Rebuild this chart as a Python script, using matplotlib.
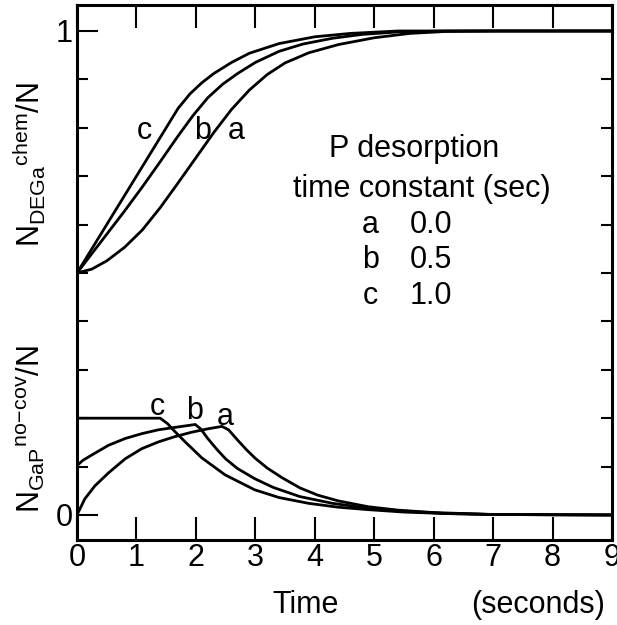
import numpy as np
import matplotlib.pyplot as plt

plt.rcParams['font.family'] = ['Liberation Sans', 'DejaVu Sans']
plt.rcParams['mathtext.fontset'] = 'custom'
plt.rcParams['mathtext.rm'] = 'Liberation Sans'
plt.rcParams['mathtext.it'] = 'Liberation Sans'

# upper curves: N_DEGa^chem / N
t_up_a = [0, 0.25, 0.5, 0.8, 1.1, 1.4, 1.7, 2.0, 2.3, 2.6, 2.9, 3.2, 3.5, 3.9, 4.4, 5.0, 5.6, 6.2, 7, 9]
y_up_a = [0.500, 0.508, 0.525, 0.553, 0.589, 0.635, 0.686, 0.738, 0.790, 0.838, 0.878, 0.910, 0.934,
          0.955, 0.972, 0.986, 0.995, 0.999, 1.0, 1.0]
t_up_b = [0, 0.25, 0.5, 0.8, 1.1, 1.4, 1.7, 1.95, 2.2, 2.45, 2.7, 3.0, 3.4, 3.8, 4.3, 4.8, 5.4, 6.2, 9]
y_up_b = [0.500, 0.540, 0.580, 0.628, 0.678, 0.730, 0.783, 0.825, 0.862, 0.890, 0.912, 0.935, 0.958,
          0.973, 0.985, 0.993, 0.998, 1.0, 1.0]
t_up_c = [0, 0.4, 0.8, 1.2, 1.5, 1.7, 1.9, 2.1, 2.3, 2.6, 2.9, 3.4, 4.0, 4.6, 5.4, 9]
y_up_c = [0.500, 0.580, 0.660, 0.740, 0.800, 0.840, 0.870, 0.893, 0.912, 0.935, 0.954, 0.974, 0.988,
          0.995, 1.0, 1.0]

# lower curves: N_GaP^no-cov / N
t_lo_a = [0, 0.13, 0.3, 0.53, 0.81, 1.09, 1.37, 1.65, 1.93, 2.2, 2.44, 2.55, 2.7, 2.85, 3.0, 3.2, 3.45,
          3.75, 4.05, 4.4, 4.9, 5.4, 6.0, 7, 9]
y_lo_a = [0, 0.033, 0.060, 0.087, 0.116, 0.137, 0.151, 0.162, 0.171, 0.178, 0.183, 0.176, 0.155, 0.135,
          0.117, 0.097, 0.077, 0.056, 0.041, 0.029, 0.017, 0.010, 0.005, 0.001, 0]
t_lo_b = [0, 0.1, 0.25, 0.53, 0.81, 1.09, 1.37, 1.65, 1.99, 2.08, 2.2, 2.35, 2.5, 2.7, 2.99, 3.3, 3.75,
          4.3, 4.9, 5.5, 6.2, 7, 9]
y_lo_b = [0.102, 0.113, 0.124, 0.144, 0.158, 0.168, 0.176, 0.181, 0.187, 0.178, 0.158, 0.136, 0.116,
          0.096, 0.075, 0.057, 0.038, 0.024, 0.014, 0.008, 0.003, 0.001, 0]
t_lo_c = [0, 1.40, 1.52, 1.65, 1.82, 2.1, 2.49, 2.99, 3.4, 3.9, 4.4, 4.9, 5.5, 6.2, 7, 9]
y_lo_c = [0.200, 0.200, 0.189, 0.172, 0.151, 0.118, 0.083, 0.052, 0.036, 0.024, 0.016, 0.011, 0.006,
          0.003, 0.001, 0]

legend_keys = ['a', 'b', 'c']
legend_vals = ['0.0', '0.5', '1.0']
x_tick_labels = [str(i) for i in range(10)]

fs = 22
fig = plt.figure(figsize=(6.17, 6.25), dpi=100)
ax = fig.add_axes([0.1248, 0.136, 0.867, 0.856])

for t, y in [(t_up_a, y_up_a), (t_up_b, y_up_b), (t_up_c, y_up_c),
             (t_lo_a, y_lo_a), (t_lo_b, y_lo_b), (t_lo_c, y_lo_c)]:
    ax.plot(t, y, color='black', lw=2, solid_joinstyle='round')

ax.set_xlim(0, 9)
ax.set_ylim(-0.0517, 1.0537)

for s in ax.spines.values():
    s.set_linewidth(2.2)

ax.set_xticks(range(10), x_tick_labels)
ax.tick_params(axis='x', which='major', direction='in', length=16.5, width=1.5,
               top=True, labelsize=fs, pad=2)
ax.set_yticks([0, 1], ['0', '1'])
ax.set_yticks(np.arange(1, 10) / 10, minor=True)
ax.tick_params(axis='y', which='major', direction='in', length=15, width=1.5,
               labelsize=fs, pad=3)
ax.tick_params(axis='y', which='minor', direction='in', length=8, width=1.5,
               left=True, right=True)

# curve labels
for lab, x in zip(['c', 'b', 'a'], [1.14, 2.12, 2.68]):
    ax.text(x, 0.777, lab, fontsize=fs, ha='center', va='baseline')
for lab, x, y in zip(['c', 'b', 'a'], [1.36, 1.97, 2.5], [0.207, 0.198, 0.186]):
    ax.text(x, y, lab, fontsize=fs, ha='center', va='baseline')

# legend block
fig.text(0.672, 0.749, 'P desorption', fontsize=fs, ha='center', va='baseline')
fig.text(0.684, 0.685, 'time constant (sec)', fontsize=fs, ha='center', va='baseline')
for i, (k, v) in enumerate(zip(legend_keys, legend_vals)):
    yb = [0.627, 0.571, 0.514][i]
    fig.text(0.600, yb, k, fontsize=fs, ha='center', va='baseline')
    fig.text(0.664, yb, v, fontsize=fs, ha='left', va='baseline')

# axis labels
fig.text(0.047, 0.736, r'$\mathrm{N_{DEGa}}{}^{\mathrm{chem}}\mathrm{/N}$', fontsize=fs,
         rotation=90, ha='center', va='center')
fig.text(0.049, 0.314, r'$\mathrm{N_{GaP}}{}^{\mathrm{no\!-\!cov}}\mathrm{/N}$', fontsize=fs,
         rotation=90, ha='center', va='center')
fig.text(0.496, 0.019, 'Time', fontsize=fs, ha='center', va='baseline')
fig.text(0.981, 0.019, '(seconds)', fontsize=fs, ha='right', va='baseline')

fig.savefig('out.png', dpi=100)
